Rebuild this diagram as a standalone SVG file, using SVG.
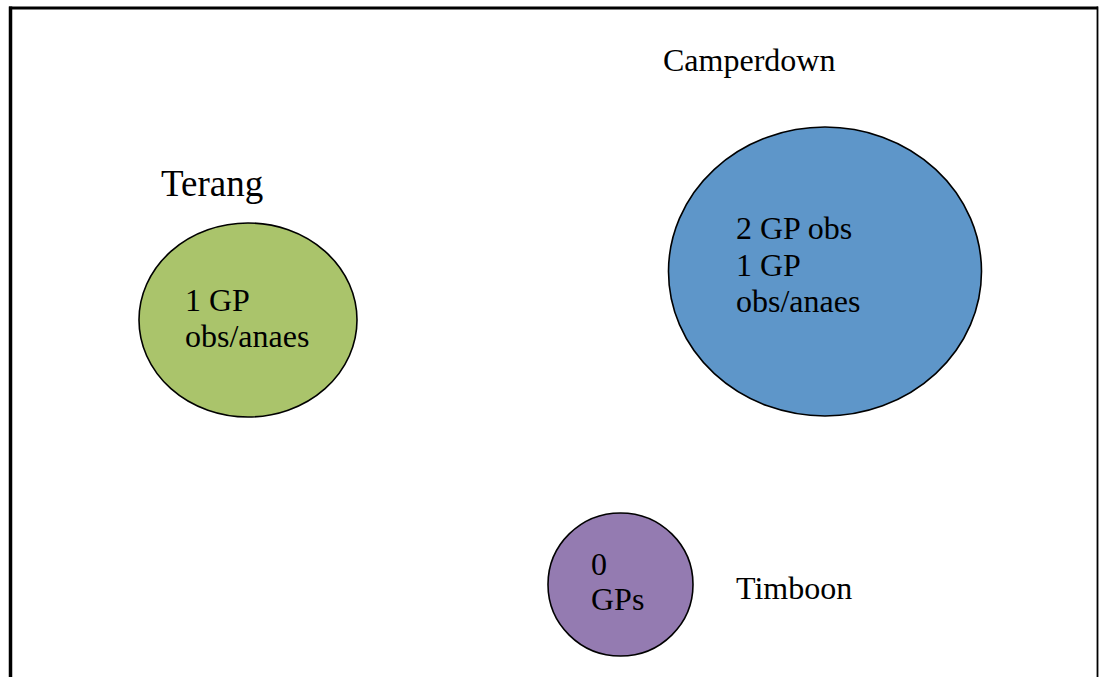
<svg xmlns="http://www.w3.org/2000/svg" width="1100" height="677" viewBox="0 0 1100 677">
<style>
.node ellipse { stroke: #000; stroke-width: 1.6; }
text { font-family: "Liberation Serif", "Times New Roman", serif; fill: #000; font-size: 32px; }
.frame { stroke: #000; fill: none; }
</style>
<rect width="1100" height="677" fill="#fff"/>
<g id="frame">
<line class="frame" x1="10.5" y1="6.5" x2="10.5" y2="677" stroke-width="3.5"/>
<line class="frame" x1="9" y1="8" x2="1098" y2="8" stroke-width="3"/>
<line class="frame" x1="1097.5" y1="6.5" x2="1097.5" y2="677" stroke-width="1.8"/>
</g>
<g id="connectors"></g>
<g id="terang" class="node">
<text x="161" y="196" style="font-size:37px">Terang</text>
<ellipse cx="248" cy="320" rx="109" ry="97" fill="#AAC46B"/>
<text x="185" y="311">1 GP</text>
<text x="185" y="347">obs/anaes</text>
</g>
<g id="camperdown" class="node">
<text x="663" y="71">Camperdown</text>
<ellipse cx="825" cy="271.5" rx="156.5" ry="144.5" fill="#5E96C9"/>
<text x="736" y="239">2 GP obs</text>
<text x="736" y="276">1 GP</text>
<text x="736" y="312">obs/anaes</text>
</g>
<g id="timboon" class="node">
<ellipse cx="620.5" cy="584.5" rx="72.5" ry="71.5" fill="#947BB1"/>
<text x="591" y="575">0</text>
<text x="591" y="610">GPs</text>
<text x="736" y="599">Timboon</text>
</g>
</svg>
